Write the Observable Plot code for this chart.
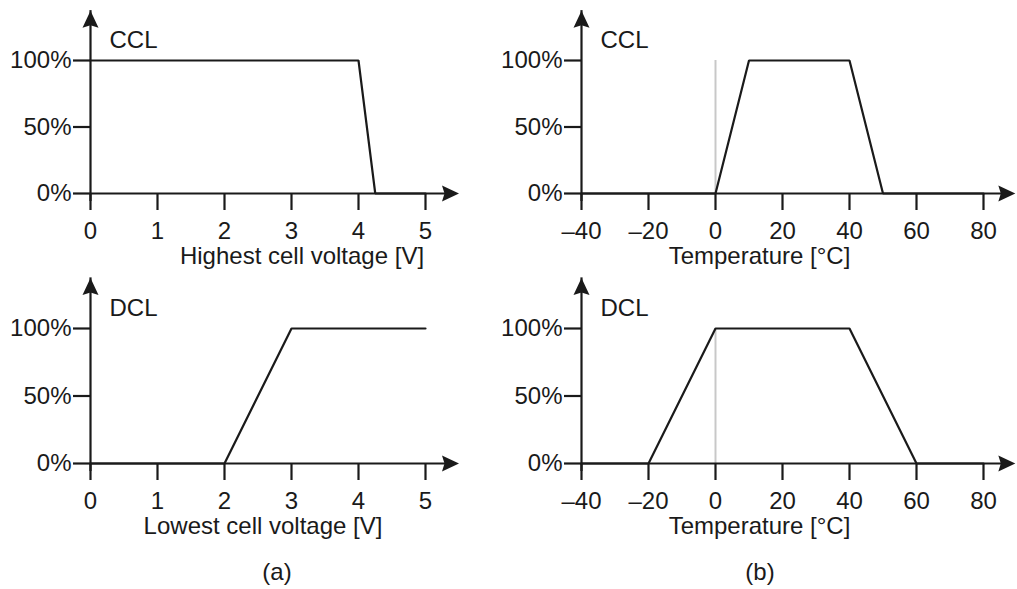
<!DOCTYPE html>
<html>
<head>
<meta charset="utf-8">
<script src="https://cdn.jsdelivr.net/npm/d3@7"></script>
<script src="https://cdn.jsdelivr.net/npm/@observablehq/plot@0.6"></script>
<style>
  html, body { margin: 0; padding: 0; background: #fff; }
  #root { position: relative; width: 1017px; height: 589px; overflow: hidden; font-family: 'Liberation Sans', Arial, sans-serif; color: #1a1a1a; }
  .panel { position: absolute; }
  .cap { position: absolute; font-size: 24px; transform: translate(-50%, -50%); white-space: nowrap; }
</style>
</head>
<body>
<div id="root"></div>
<script>
// ---- data ----
const voltTicks = [0, 1, 2, 3, 4, 5];
const tempTicks = [-40, -20, 0, 20, 40, 60, 80];
const pctTicks = [0, 0.5, 1];

const cclVoltX = [0, 4, 4.25, 5];
const cclVoltY = [1, 1, 0, 0];

const dclVoltX = [0, 2, 3, 5];
const dclVoltY = [0, 0, 1, 1];

const cclTempX = [-40, 0, 10, 40, 50, 80];
const cclTempY = [0, 0, 1, 1, 0, 0];

const dclTempX = [-40, -20, 0, 40, 60, 80];
const dclTempY = [0, 0, 1, 1, 0, 0];

const ink = "#1a1a1a";
const fontFamily = "'Liberation Sans', Arial, sans-serif";
const FS = 24;

const arrowHead = {
  draw(ctx) {
    ctx.moveTo(0, 0);
    ctx.lineTo(8, 17);
    ctx.lineTo(0, 14.5);
    ctx.lineTo(-8, 17);
    ctx.closePath();
  }
};

function panel(o) {
  const data = o.xs.map((x, i) => ({x, y: o.ys[i]}));
  const x0 = o.xDomain[0];
  const yTip = 1.375;
  const marks = [];
  if (o.gray) marks.push(Plot.ruleX([0], {y1: 0, y2: 1, stroke: "#c8c8c8", strokeWidth: 2}));
  marks.push(Plot.ruleY([0], {x1: x0, x2: o.xTip, stroke: ink, strokeWidth: 2.2, insetRight: 8}));
  marks.push(Plot.ruleX([x0], {y1: 0, y2: yTip, stroke: ink, strokeWidth: 2.2, insetTop: 8}));
  marks.push(Plot.dot([{x: o.xTip, y: 0}], {x: "x", y: "y", symbol: arrowHead, fill: ink, stroke: "none", rotate: 90}));
  marks.push(Plot.dot([{x: x0, y: yTip}], {x: "x", y: "y", symbol: arrowHead, fill: ink, stroke: "none"}));
  marks.push(Plot.axisX({ticks: o.xTicks, tickFormat: o.xFormat, tickSize: 17, tickPadding: 11, strokeWidth: 2.2, stroke: ink, fill: ink, label: null, fontSize: FS}));
  marks.push(Plot.axisY({ticks: pctTicks, tickFormat: d3.format(".0%"), tickSize: 17, tickPadding: 2, strokeWidth: 2.2, stroke: ink, fill: ink, label: null, fontSize: FS}));
  marks.push(Plot.line(data, {x: "x", y: "y", stroke: ink, strokeWidth: 2.2, strokeLinejoin: "miter"}));
  marks.push(Plot.text([o.yLabel], {frameAnchor: "top-left", textAnchor: "start", dx: 19, dy: -30, fontSize: FS, fill: ink}));
  marks.push(Plot.text([o.xLabel], {frameAnchor: "bottom", dx: o.labelDx, dy: 70, fontSize: FS, fill: ink}));
  const svg = Plot.plot({
    width: o.width,
    height: o.height,
    marginLeft: o.marginLeft,
    marginRight: o.marginRight,
    marginTop: 60,
    marginBottom: o.marginBottom,
    x: {domain: o.xDomain},
    y: {domain: [0, 1]},
    style: {fontFamily, fontSize: FS + "px", color: ink, background: "transparent", overflow: "visible"},
    marks
  });
  const div = document.createElement("div");
  div.className = "panel";
  div.style.left = o.left + "px";
  div.style.top = o.top + "px";
  div.appendChild(svg);
  document.getElementById("root").appendChild(div);
}

const leftGeom = {left: 0, width: 480, marginLeft: 90, marginRight: 55, xDomain: [0, 5], xTicks: voltTicks, xFormat: d3.format("d"), xTip: 5.5};
const rightGeom = {left: 480, width: 537, marginLeft: 101, marginRight: 34, xDomain: [-40, 80], xTicks: tempTicks, xFormat: d => (d < 0 ? "\u2013" + Math.abs(d) : String(d)), xTip: 89.5};

panel({...leftGeom, top: 0, height: 270, marginBottom: 77, xs: cclVoltX, ys: cclVoltY, yLabel: "CCL", xLabel: "Highest cell voltage [V]", labelDx: 44});
panel({...rightGeom, top: 0, height: 270, marginBottom: 77, xs: cclTempX, ys: cclTempY, yLabel: "CCL", xLabel: "Temperature [°C]", labelDx: -23, gray: true});
panel({...leftGeom, top: 268, height: 321, marginBottom: 126, xs: dclVoltX, ys: dclVoltY, yLabel: "DCL", xLabel: "Lowest cell voltage [V]", labelDx: 5});
panel({...rightGeom, top: 268, height: 321, marginBottom: 126, xs: dclTempX, ys: dclTempY, yLabel: "DCL", xLabel: "Temperature [°C]", labelDx: -23, gray: true});

const root = document.getElementById("root");
[["(a)", 277, 572], ["(b)", 760, 572]].forEach(([t, x, y]) => {
  const d = document.createElement("div");
  d.className = "cap";
  d.textContent = t;
  d.style.left = x + "px";
  d.style.top = y + "px";
  root.appendChild(d);
});
</script>
</body>
</html>
